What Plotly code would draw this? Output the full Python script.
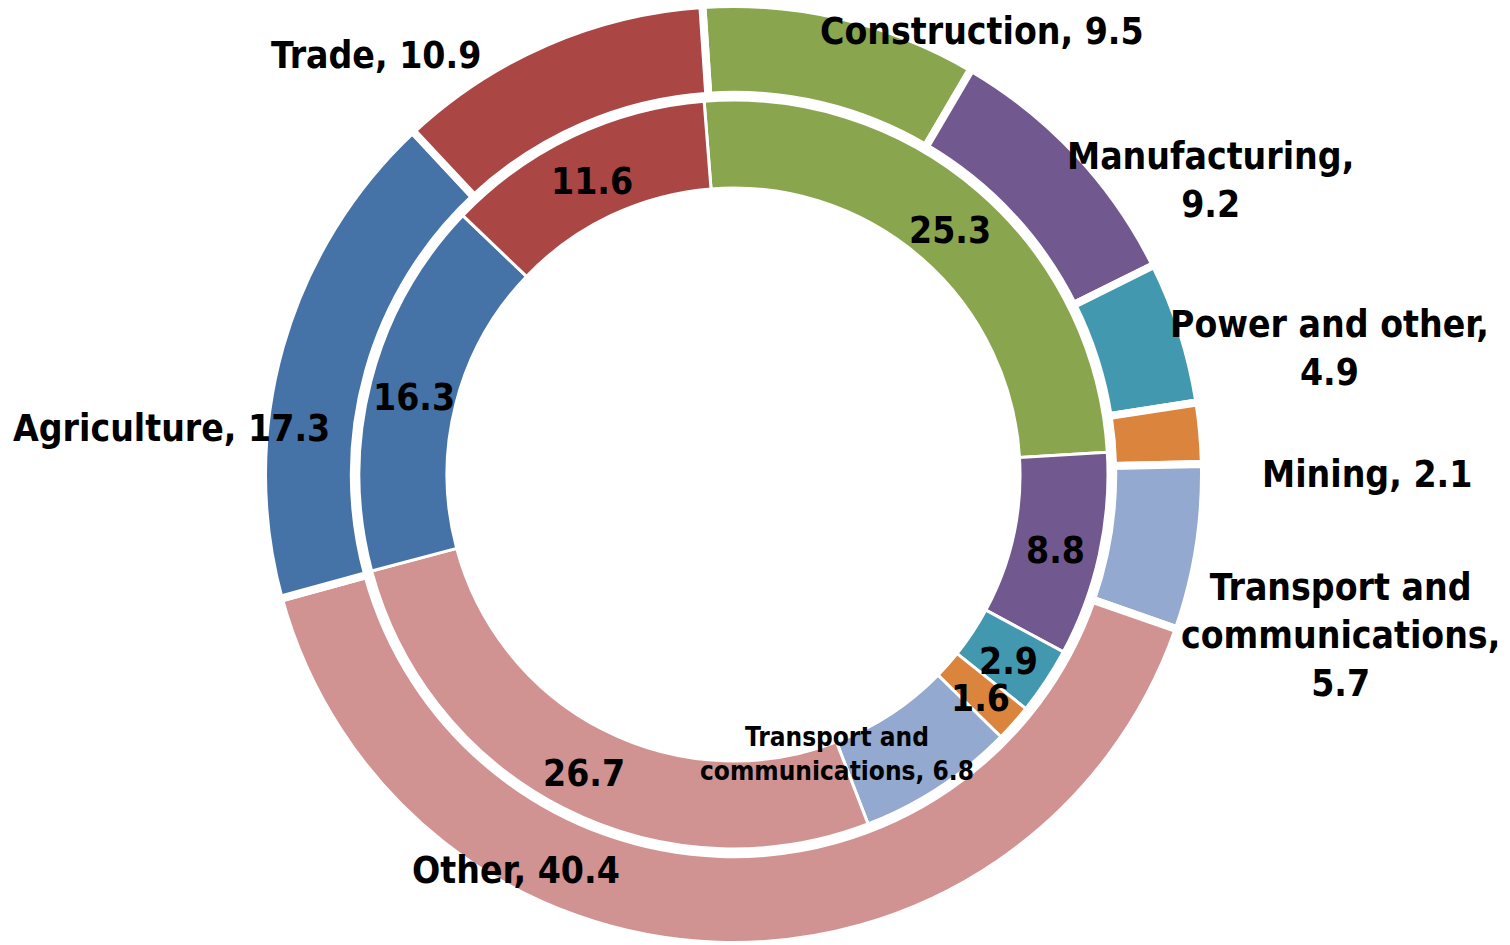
import math
import plotly.graph_objects as go

W, H = 1510, 945

categories = ["Construction", "Manufacturing", "Power and other", "Mining",
              "Transport and communications", "Other", "Agriculture", "Trade"]
outer_values = [9.5, 9.2, 4.9, 2.1, 5.7, 40.4, 17.3, 10.9]
inner_values = [25.3, 8.8, 2.9, 1.6, 6.8, 26.7, 16.3, 11.6]
colors = ["#89A54E", "#71588F", "#4198AF", "#DB843D",
          "#93A9CF", "#D19392", "#4572A7", "#AA4643"]

# outer label text (line breaks as in the reference) and their pixel centres
outer_label_text = ["Construction, 9.5", "Manufacturing,<br>9.2", "Power and other,<br>4.9",
                    "Mining, 2.1", "Transport and<br>communications,<br>5.7",
                    "Other, 40.4", "Agriculture, 17.3", "Trade, 10.9"]
outer_label_pos = [(982, 31), (1210, 180), (1329, 348), (1367, 474),
                   (1340, 635), (516, 870), (171, 428), (376, 56)]

CX, CY = 733.5, 474.5
R_OUT, R_IN = 470.5, 374.5
ROT_OUT, ROT_IN = -3.8, -4.5
FONT = "DejaVu Sans Condensed, DejaVu Sans, sans-serif"

fig = go.Figure()
fig.add_trace(go.Pie(
    labels=categories, values=outer_values, sort=False, direction="clockwise",
    rotation=ROT_OUT, hole=0.807, textinfo="none", hoverinfo="label+value",
    marker=dict(colors=colors, line=dict(color="white", width=8)),
    domain=dict(x=[(CX - R_OUT) / W, (CX + R_OUT) / W],
                y=[max(0, (H - CY - R_OUT) / H), (H - CY + R_OUT) / H]),
    showlegend=False,
))
fig.add_trace(go.Pie(
    labels=categories, values=inner_values, sort=False, direction="clockwise",
    rotation=ROT_IN, hole=0.765, textinfo="none", hoverinfo="label+value",
    marker=dict(colors=colors, line=dict(color="white", width=3)),
    domain=dict(x=[(CX - R_IN) / W, (CX + R_IN) / W],
                y=[(H - CY - R_IN) / H, (H - CY + R_IN) / H]),
    showlegend=False,
))

annotations = []
for txt, (px, py) in zip(outer_label_text, outer_label_pos):
    annotations.append(dict(x=px / W, y=1 - py / H, xref="paper", yref="paper",
                            xanchor="center", yanchor="middle",
                            text=txt, showarrow=False, align="center",
                            font=dict(family=FONT, size=37, color="black", weight="bold")))

# inner labels: at the middle of each slice, mid-radius of the inner ring
total = sum(inner_values)
cum = 0
for cat, v in zip(categories, inner_values):
    mid = (cum + v / 2) / total * 360 + ROT_IN
    cum += v
    r = 330
    px = CX + r * math.sin(math.radians(mid))
    py = CY - r * math.cos(math.radians(mid)) + 5
    txt = f"{v}"
    size = 37
    if cat.startswith("Transport"):
        txt = f"Transport and<br>communications, {v}"
        size = 26
        px, py = 837, 754
    annotations.append(dict(x=px / W, y=1 - py / H, xref="paper", yref="paper",
                            xanchor="center", yanchor="middle",
                            text=txt, showarrow=False, align="center",
                            font=dict(family=FONT, size=size, color="black", weight="bold")))

fig.update_layout(width=W, height=H, margin=dict(l=0, r=0, t=0, b=0),
                  paper_bgcolor="white", plot_bgcolor="white",
                  annotations=annotations)
fig.write_html("out.html", config={"displayModeBar": False},
               post_script="document.body.style.margin='0';document.body.style.overflow='hidden';")
